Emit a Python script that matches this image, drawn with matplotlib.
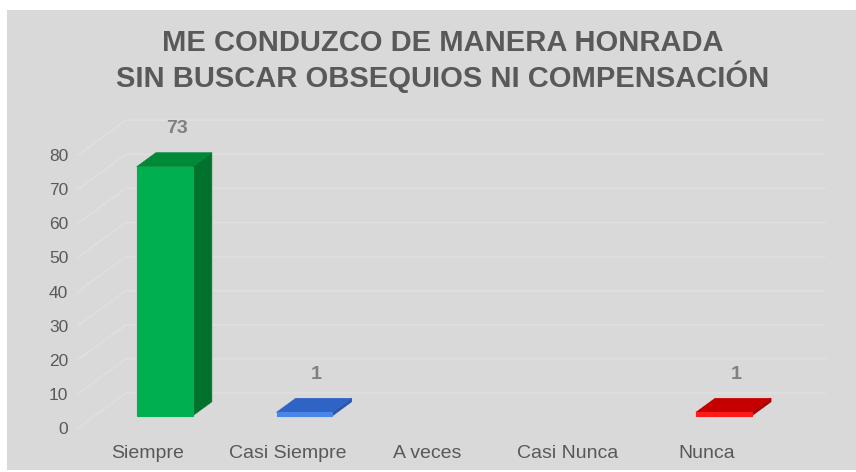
import matplotlib
matplotlib.use("Agg")
import matplotlib.pyplot as plt
from matplotlib.patches import Polygon, Rectangle

plt.rcParams["font.family"] = ["Liberation Sans", "DejaVu Sans"]

TITLE = "ME CONDUZCO DE MANERA HONRADA\nSIN BUSCAR OBSEQUIOS NI COMPENSACIÓN"
CATEGORIES = ["Siempre", "Casi Siempre", "A veces", "Casi Nunca", "Nunca"]
VALUES = [73, 1, 0, 0, 1]
YTICKS = [0, 10, 20, 30, 40, 50, 60, 70, 80]
# front, top, side colours per bar
FRONT = ["#00b050", "#4a86e8", "#ff1a1a", "#ff1a1a", "#ff1a1a"]
TOP = ["#008a38", "#3064c4", "#c40000", "#c40000", "#c40000"]
SIDE = ["#00722e", "#2a55a8", "#a00000", "#a00000", "#a00000"]

BG, TXT, LBL, GRID = "#d9d9d9", "#595959", "#808080", "#dfdfdf"
DX, DY = 0.343, 10.26      # depth offset of the back wall, in data units
D0, D1, HALF = 0.35, 0.75, 0.2


def proj(x, y, d):
    return (x + d * DX, y + d * DY)


fig = plt.figure(figsize=(8.56, 4.72), dpi=100)
fig.patch.set_facecolor("white")
fig.add_artist(Rectangle((7 / 856, 2 / 472), 1, 460 / 472, transform=fig.transFigure,
                         facecolor=BG, edgecolor="none", zorder=-10))

W, H = 856, 472
ax = fig.add_axes([78 / W, (H - 428) / H, 699 / W, 307 / H])
ax.set_facecolor("none")
ax.set_xlim(-0.5, 4.5)
ax.set_ylim(0, 90)
for s in ax.spines.values():
    s.set_visible(False)

# gridlines: diagonal on the left side wall, horizontal on the back wall
for v in YTICKS:
    p0, p1, p2 = proj(-0.5, v, 0), proj(-0.5, v, 1), proj(4.5, v, 1)
    ax.plot([p0[0], p1[0], p2[0]], [p0[1], p1[1], p2[1]], color=GRID, lw=1.3,
            clip_on=False, zorder=1)

for i, v in enumerate(VALUES):
    if v <= 0:
        continue
    xl, xr = i - HALF, i + HALF
    front = [proj(xl, 0, D0), proj(xr, 0, D0), proj(xr, v, D0), proj(xl, v, D0)]
    side = [proj(xr, 0, D0), proj(xr, 0, D1), proj(xr, v, D1), proj(xr, v, D0)]
    top = [proj(xl, v, D0), proj(xr, v, D0), proj(xr, v, D1), proj(xl, v, D1)]
    ax.add_patch(Polygon(side, closed=True, facecolor=SIDE[i], edgecolor=SIDE[i], lw=0.5,
                         clip_on=False, zorder=3))
    ax.add_patch(Polygon(top, closed=True, facecolor=TOP[i], edgecolor=TOP[i], lw=0.5,
                         clip_on=False, zorder=3))
    ax.add_patch(Polygon(front, closed=True, facecolor=FRONT[i], edgecolor=FRONT[i], lw=0.8,
                         clip_on=False, zorder=4))
    lx, ly = proj(i, v, 0.6)
    ax.text(lx, ly + 8.5, str(v), ha="center", va="center", fontsize=14, fontweight="bold",
            color=LBL, clip_on=False)

ax.set_yticks(YTICKS)
ax.set_yticklabels([str(t) for t in YTICKS], fontsize=12.5, color=TXT)
ax.set_xticks(range(len(CATEGORIES)))
ax.set_xticklabels(CATEGORIES, fontsize=14, color=TXT)
ax.tick_params(axis="y", length=0, pad=7)
ax.tick_params(axis="x", length=0, pad=12)

fig.text(443 / W, 1 - 61 / H, TITLE, ha="center", va="center", fontsize=21,
         fontweight="bold", color=TXT, linespacing=1.1)

fig.savefig("out.png", dpi=100)
